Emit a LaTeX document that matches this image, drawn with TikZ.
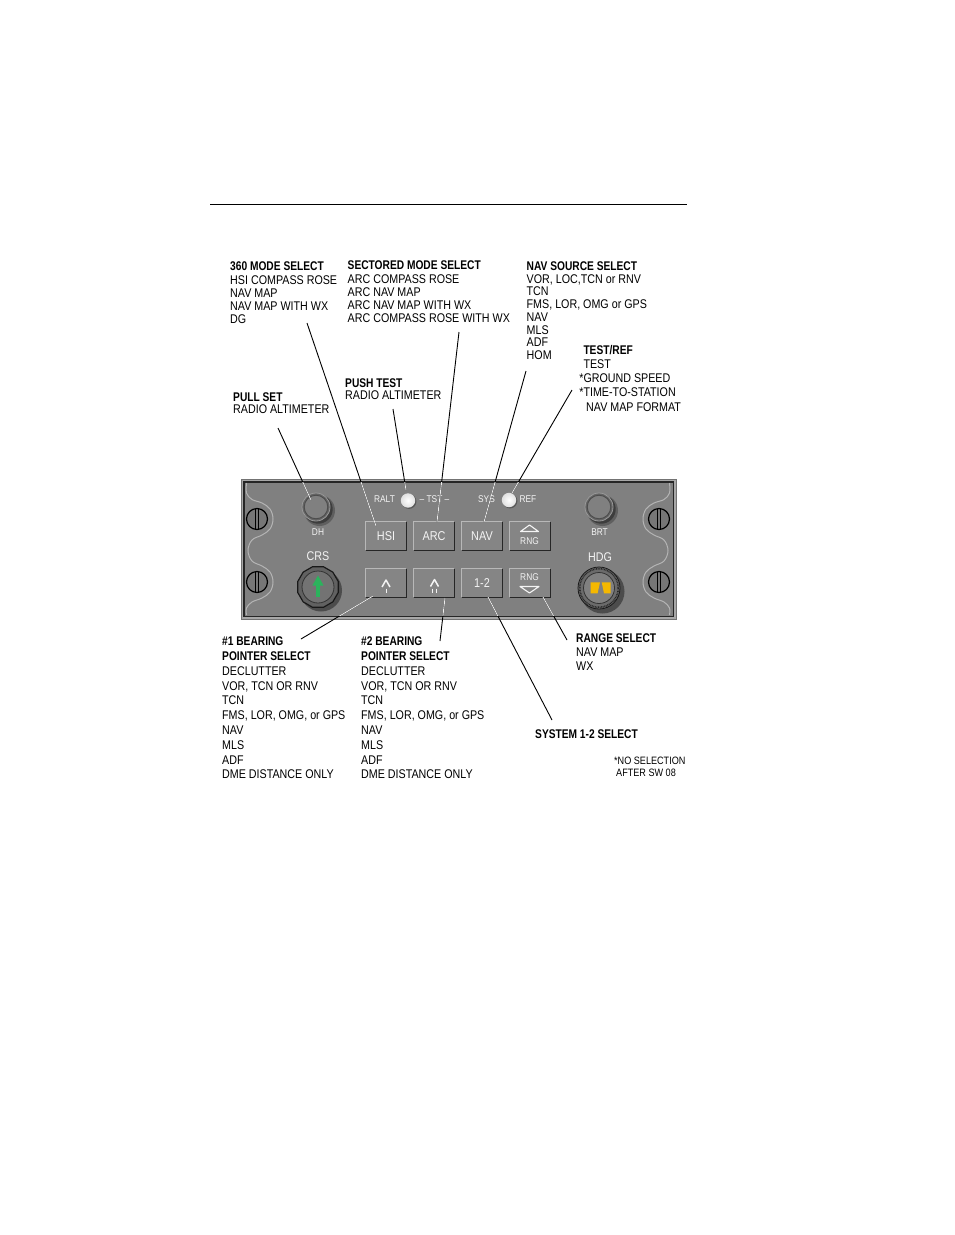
\documentclass[tikz,border=0pt]{standalone}
\usepackage{fontspec}
\setmainfont{Liberation Sans}[UprightFeatures={FakeStretch=0.85}, BoldFeatures={FakeStretch=0.81}]
\usetikzlibrary{shapes.geometric}
\definecolor{panelgray}{HTML}{808080}
\definecolor{bandgray}{HTML}{A8A8A8}
\definecolor{btnface}{HTML}{858585}
\definecolor{wavegray}{HTML}{B4B4B4}
\definecolor{knobring}{HTML}{646464}
\definecolor{arrowgreen}{HTML}{2BB35C}
\definecolor{bugyellow}{HTML}{F5B800}
\definecolor{ptext}{HTML}{F4F4F4}
\begin{document}
\begin{tikzpicture}[x=1pt,y=-1pt,
  lbl/.style={anchor=north west, inner sep=0pt, align=left, text=black,
    font=\fontsize{12.6}{13.3}\selectfont},
  lead/.style={line width=0.9pt, black},
  ptxt/.style={text=ptext, inner sep=0pt, font=\fontsize{9.8}{10}\selectfont},
  ptxtl/.style={text=ptext, inner sep=0pt, font=\fontsize{12.6}{13}\selectfont},
  btn/.style={minimum width=40pt, minimum height=28pt, inner sep=0pt, fill=btnface,
    text=ptext, font=\fontsize{12.8}{13}\selectfont},
  btnlight/.style={draw=white!72!black, line width=1pt},
  btndark/.style={draw=black!85, line width=1.3pt},
  wave/.style={draw=wavegray, line width=1pt},
  screwline/.style={draw=black, line width=1.2pt},
  sym/.style={draw=ptext, line width=1.1pt, line join=round}
]
\useasboundingbox (0,0) rectangle (954,1235);
\fill[white] (0,0) rectangle (954,1235);

% top rule
\coordinate (rulel) at (210,204.5);
\coordinate (ruler) at (687,204.5);
\draw[line width=0.9pt] (rulel) -- (ruler);

% ---------- panel ----------
\filldraw[fill=bandgray, draw=black!55, line width=0.6pt] (241,479) rectangle (676,619);
\filldraw[fill=panelgray, draw=black!85, line width=1.5pt] (243.75,481.75) rectangle (673.25,616.25);

% scalloped lines
\draw[wave] plot[smooth, tension=0.6] coordinates {(246.5,483) (246.5,493) (252,499.5) (262,503) (270,509) (273,519) (270,529) (262,535) (252,540) (248,550.5) (252,561) (262,566) (270,572) (273,582) (270,592) (262,598) (252,602) (246.5,608) (246.5,615)};
\draw[wave] plot[smooth, tension=0.6] coordinates {(669.5,483) (669.5,493) (664,499.5) (654,503) (646,509) (643,519) (646,529) (654,535) (664,540) (668,550.5) (664,561) (654,566) (646,572) (643,582) (646,592) (654,598) (664,602) (669.5,608) (669.5,615)};

% screws
\foreach \sx/\sy in {257/519, 257/582, 659/519, 659/582}{
  \filldraw[fill=panelgray!92!black, screwline] (\sx,\sy) circle (10.5);
  \draw[black, line width=0.9pt] (\sx-1.8,\sy-9.8) -- (\sx-1.8,\sy+9.8);
  \draw[black, line width=0.9pt] (\sx+1.8,\sy-9.8) -- (\sx+1.8,\sy+9.8);
}

% DH and BRT knobs
\foreach \kx in {316,599}{
  \fill[black, opacity=0.25] (\kx+3.5,510.5) circle (15.5);
  \fill[black, opacity=0.35] (\kx+2.2,509.2) circle (14.5);
  \filldraw[fill=knobring, draw=white!60!black, line width=0.8pt] (\kx,507) circle (14);
  \filldraw[fill=panelgray, draw=black!70, line width=0.9pt] (\kx,507) circle (11.8);
}
\node[ptxt] (dh) at (318,532) {DH};
\node[ptxt] (brt) at (599.5,532) {BRT};
\node[ptxtl] (crs) at (318,556.5) {CRS};
\node[ptxtl] (hdg) at (600,557) {HDG};

% CRS knob
\fill[black, opacity=0.4] (321,590.5) circle (21);
\node[regular polygon, regular polygon sides=12, minimum size=42pt, inner sep=0pt,
  fill=black!62, draw=black!90, line width=1.2pt] (crsknob) at (318,587) {};
\filldraw[fill=black!55, draw=black!80, line width=0.8pt] (crsknob.center) circle (16);
\fill[arrowgreen] (316,597) rectangle (320,584);
\fill[arrowgreen] (312.5,585.5) -- (318,575.5) -- (323.5,585.5) -- cycle;

% HDG knob
\fill[black, opacity=0.4] (602.5,591.5) circle (22);
\filldraw[fill=black!58, draw=black!90, line width=0.8pt] (599,588) circle (21);
\draw[black!85, line width=1.6pt, dash pattern=on 0.8pt off 0.8pt] (599,588) circle (19.3);
\filldraw[fill=panelgray, draw=black!80, line width=0.8pt] (599,588) circle (15.5);
\fill[bugyellow] (590.7,582.3) -- (600,582.3) -- (597.6,593.3) -- (590.7,593.3) -- cycle;
\fill[bugyellow] (601.7,582.3) -- (610.7,582.3) -- (610.7,593.3) -- (604,593.3) -- cycle;

% annunciator bulbs and labels
\node[ptxt] (ralt) at (384.5,499.5) {RALT};
\node[ptxt] (tst) at (434.5,499.5) {– TST –};
\node[ptxt] (sys) at (486.5,499.5) {SYS};
\node[ptxt] (ref) at (528,499.5) {REF};
\fill[black, opacity=0.3] (409,501.5) circle (7.4);
\shade[inner color=white, outer color=black!12] (408,500.5) circle (7.2);
\fill[black, opacity=0.3] (510,501) circle (7.4);
\shade[inner color=white, outer color=black!12] (509,500) circle (7.2);
\coordinate (raltbulb) at (406,490);
\coordinate (sysbulb) at (512,493);

% buttons
\node[btn] (hsi) at (386,536) {HSI};
\node[btn] (arc) at (434,536) {ARC};
\node[btn] (nav) at (482,536) {NAV};
\node[btn] (rngu) at (530,536) {};
\node[btn] (brgone) at (386,583) {};
\node[btn] (brgtwo) at (434,583) {};
\node[btn] (systw) at (482,583) {1-2};
\node[btn] (rngd) at (530,583) {};
\foreach \n in {hsi,arc,nav,rngu,brgone,brgtwo,systw,rngd}{
  \draw[btnlight] (\n.south west) -- (\n.north west) -- (\n.north east);
  \draw[btndark] (\n.north east) -- (\n.south east) -- (\n.south west);
}
\node[ptxt] (rngut) at (529.5,541.5) {RNG};
\draw[sym] (520.5,531.5) -- (529.5,525) -- (538.5,531.5) -- cycle;
\node[ptxt] (rngdt) at (529.5,577.5) {RNG};
\draw[sym] (520,586.5) -- (529.5,593) -- (539,586.5) -- cycle;
\draw[sym, line width=1.5pt] (382,587) -- (386,580) -- (390,587);
\draw[ptext, line width=1pt] (386,588.5) -- (386,592.5);
\draw[sym, line width=1.5pt] (430.5,586.5) -- (434.5,579.5) -- (438.5,586.5);
\draw[ptext, line width=1pt] (432.7,588.5) -- (432.7,593);
\draw[ptext, line width=1pt] (436.5,588.5) -- (436.5,593);

% ---------- labels ----------
\node[lbl] (modesel) at (230,261.7) {\textbf{360 MODE SELECT}\\HSI COMPASS ROSE\\NAV MAP\\NAV MAP WITH WX\\DG};
\node[lbl] (sectsel) at (347.5,260.7) {\textbf{SECTORED MODE SELECT}\\ARC COMPASS ROSE\\ARC NAV MAP\\ARC NAV MAP WITH WX\\ARC COMPASS ROSE WITH WX};
\node[lbl, font=\fontsize{12.6}{12.7}\selectfont] (navsrc) at (526.5,261.5) {\textbf{NAV SOURCE SELECT}\\VOR, LOC,TCN or RNV\\TCN\\FMS, LOR, OMG or GPS\\NAV\\MLS\\ADF\\HOM};
\node[lbl, font=\fontsize{12.6}{14.2}\selectfont] (testref) at (583.3,345) {\textbf{TEST/REF}\\TEST\\\llap{*}GROUND SPEED\\\llap{*}TIME-TO-STATION\\\hspace*{2.7pt}NAV MAP FORMAT};
\node[lbl, font=\fontsize{12.6}{12}\selectfont] (pushtest) at (345,378.3) {\textbf{PUSH TEST}\\RADIO ALTIMETER};
\node[lbl, font=\fontsize{12.6}{11.8}\selectfont] (pullset) at (233,392.7) {\textbf{PULL SET}\\RADIO ALTIMETER};
\node[lbl, font=\fontsize{12.6}{14.8}\selectfont] (brgonel) at (222,636.7) {\textbf{\#1 BEARING}\\\textbf{POINTER SELECT}\\DECLUTTER\\VOR, TCN OR RNV\\TCN\\FMS, LOR, OMG, or GPS\\NAV\\MLS\\ADF\\DME DISTANCE ONLY};
\node[lbl, font=\fontsize{12.6}{14.8}\selectfont] (brgtwol) at (361,636.7) {\textbf{\#2 BEARING}\\\textbf{POINTER SELECT}\\DECLUTTER\\VOR, TCN OR RNV\\TCN\\FMS, LOR, OMG, or GPS\\NAV\\MLS\\ADF\\DME DISTANCE ONLY};
\node[lbl, font=\fontsize{12.6}{14.2}\selectfont] (rangesel) at (576,633.5) {\textbf{RANGE SELECT}\\NAV MAP\\WX};
\node[lbl] (syssel) at (535,729) {\textbf{SYSTEM 1-2 SELECT}};
\node[lbl, font=\fontsize{10.7}{12.3}\selectfont] (note) at (614,756.7) {*NO SELECTION\\\hspace*{2pt}AFTER SW 08};

% ---------- leader lines ----------
\coordinate (a1) at (307,323);   \coordinate (b1) at (376,526);
\coordinate (a2) at (459,332);   \coordinate (b2) at (437,522);
\coordinate (a3) at (393,409);
\coordinate (a4) at (278,428);   \coordinate (b4) at (311,500);
\coordinate (a5) at (526,371);   \coordinate (b5) at (484,522);
\coordinate (a6) at (572,390);
\coordinate (a7) at (301,639);   \coordinate (b7) at (373,596);
\coordinate (a8) at (440,641);   \coordinate (b8) at (445,598);
\coordinate (a9) at (552,720);   \coordinate (b9) at (488,597);
\coordinate (a10) at (567,640);  \coordinate (b10) at (543,597);
\draw[lead] (a1) -- (b1);
\draw[lead] (a2) -- (b2);
\draw[lead] (a3) -- (raltbulb);
\draw[lead] (a4) -- (b4);
\draw[lead] (a5) -- (b5);
\draw[lead] (a6) -- (sysbulb);
\draw[lead] (a7) -- (b7);
\draw[lead] (a8) -- (b8);
\draw[lead] (a9) -- (b9);
\draw[lead] (a10) -- (b10);
% the same leaders show light where they cross the dark panel
\begin{scope}
  \clip (244.5,482.5) rectangle (672.5,615.5);
  \draw[lead, white!92!black] (a1) -- (b1);
  \draw[lead, white!92!black] (a2) -- (b2);
  \draw[lead, white!92!black] (a3) -- (raltbulb);
  \draw[lead, white!92!black] (a4) -- (b4);
  \draw[lead, white!92!black] (a5) -- (b5);
  \draw[lead, white!92!black] (a6) -- (sysbulb);
  \draw[lead, white!92!black] (a7) -- (b7);
  \draw[lead, white!92!black] (a8) -- (b8);
  \draw[lead, white!92!black] (a9) -- (b9);
  \draw[lead, white!92!black] (a10) -- (b10);
\end{scope}
\end{tikzpicture}
\end{document}
